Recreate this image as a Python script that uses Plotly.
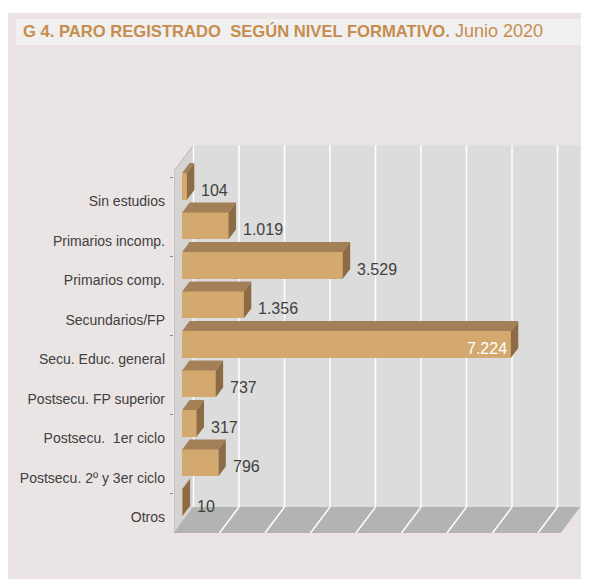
import plotly.graph_objects as go

# ---------------- data ----------------
categories = ["Sin estudios", "Primarios incomp.", "Primarios comp.", "Secundarios/FP",
              "Secu. Educ. general", "Postsecu. FP superior", "Postsecu.  1er ciclo",
              "Postsecu. 2º y 3er ciclo", "Otros"]
values = [104, 1019, 3529, 1356, 7224, 737, 317, 796, 10]
value_labels = ["104", "1.019", "3.529", "1.356", "7.224", "737", "317", "796", "10"]
gridline_values = [0, 1000, 2000, 3000, 4000, 5000, 6000, 7000, 8000]
axis_max = 8500

# ---------------- style / geometry (window pixels) ----------------
WIN_W, WIN_H = 589, 579
OFF = 8                      # page body margin of the browser
W, H = WIN_W - OFF, WIN_H - OFF


def fx(px):                  # window x pixel -> paper fraction
    return (px - OFF) / W


def fy(py):                  # window y pixel (from top) -> paper fraction
    return 1 - (py - OFF) / H


PLOT_L, PLOT_T, PLOT_B = 174, 140, 533
PX_PER_X = 45.5 / 1000.0
PX_PER_CAT = 39.5
DEPTH_PX_X, DEPTH_PX_Y = 19.5, 26.0
BAR_FRONT, BAR_BACK = 0.42, 0.80
BAR_WIDTH = 0.68
WALL_PAD = 0.16

FONT = "Liberation Sans, Arial, sans-serif"
C_FRONT, C_TOP, C_SIDE = "#D4A970", "#A38058", "#8C6B45"
C_BACK, C_LEFT, C_FLOOR = "#DCDCDC", "#D6D3D3", "#B3B3B3"
C_PANEL, C_BAND, C_TITLE = "#EAE4E4", "#F1F0F0", "#C68D4E"
C_TEXT = "#404040"

n = len(categories)
ddx = DEPTH_PX_X / PX_PER_X
ddy = DEPTH_PX_Y / PX_PER_CAT
ypos = [n - 1 - i for i in range(n)]
wall_top = n - 0.5 + WALL_PAD
floor_y = -0.5

fig = go.Figure()

shapes = []
# panel + title band
shapes.append(dict(type="rect", xref="paper", yref="paper", x0=fx(7), x1=1, y0=0, y1=fy(13),
                   fillcolor=C_PANEL, line_width=0, layer="below"))
shapes.append(dict(type="rect", xref="paper", yref="paper", x0=fx(16), x1=1, y0=fy(45), y1=fy(19),
                   fillcolor=C_BAND, line_width=0, layer="below"))


def path(pts):
    return "M " + " L ".join(f"{x},{y}" for x, y in pts) + " Z"


# back wall
shapes.append(dict(type="path", xref="x", yref="y", layer="below", line_width=0, fillcolor=C_BACK,
                   path=path([(ddx, floor_y + ddy), (ddx + axis_max, floor_y + ddy),
                              (ddx + axis_max, wall_top + ddy), (ddx, wall_top + ddy)])))
# left wall
shapes.append(dict(type="path", xref="x", yref="y", layer="below", fillcolor=C_LEFT,
                   line=dict(color="#B8B4B4", width=1),
                   path=path([(0, floor_y), (0, wall_top), (ddx, wall_top + ddy), (ddx, floor_y + ddy)])))
# floor
shapes.append(dict(type="path", xref="x", yref="y", layer="below", line_width=0, fillcolor=C_FLOOR,
                   path=path([(0, floor_y), (axis_max, floor_y), (axis_max + ddx, floor_y + ddy),
                              (ddx, floor_y + ddy)])))
# gridlines on back wall and floor
for g in gridline_values:
    shapes.append(dict(type="line", xref="x", yref="y", layer="below", x0=g + ddx, x1=g + ddx,
                       y0=floor_y + ddy, y1=wall_top + ddy, line=dict(color="white", width=1.5)))
    if g > 0:
        shapes.append(dict(type="line", xref="x", yref="y", layer="below", x0=g, x1=g + ddx,
                           y0=floor_y, y1=floor_y + ddy, line=dict(color="white", width=1.5)))

# bars
x0 = BAR_FRONT * ddx
bdx = (BAR_BACK - BAR_FRONT) * ddx
bdy = (BAR_BACK - BAR_FRONT) * ddy
yc = [y + BAR_FRONT * ddy for y in ypos]

fig.add_trace(go.Bar(orientation="h", y=yc, x=values, base=x0, width=BAR_WIDTH,
                     marker=dict(color=C_FRONT, line=dict(width=0)), hoverinfo="skip"))

top_x, top_y, side_x, side_y = [], [], [], []
for v, c in zip(values, yc):
    yt, yb = c + BAR_WIDTH / 2, c - BAR_WIDTH / 2
    top_x += [x0, x0 + v, x0 + v + bdx, x0 + bdx, x0, None]
    top_y += [yt, yt, yt + bdy, yt + bdy, yt, None]
    side_x += [x0 + v, x0 + v + bdx, x0 + v + bdx, x0 + v, x0 + v, None]
    side_y += [yt, yt + bdy, yb + bdy, yb, yt, None]
fig.add_trace(go.Scatter(x=top_x, y=top_y, fill="toself", fillcolor=C_TOP, mode="lines",
                         line=dict(width=0, color=C_TOP), hoverinfo="skip"))
fig.add_trace(go.Scatter(x=side_x, y=side_y, fill="toself", fillcolor=C_SIDE, mode="lines",
                         line=dict(width=0, color=C_SIDE), hoverinfo="skip"))

annotations = []
vmax = max(values)
for v, c, lab in zip(values, yc, value_labels):
    if v == vmax:
        annotations.append(dict(x=x0 + v, y=c, xref="x", yref="y", text=lab, showarrow=False,
                                xanchor="right", yanchor="middle", xshift=-2, yshift=-4,
                                font=dict(family=FONT, size=16, color="white")))
    else:
        annotations.append(dict(x=x0 + v + bdx, y=c, xref="x", yref="y", text=lab, showarrow=False,
                                xanchor="left", yanchor="middle", xshift=5, yshift=-4,
                                font=dict(family=FONT, size=16, color=C_TEXT)))

annotations.append(dict(x=fx(21), y=fy(31), xref="paper", yref="paper", xanchor="left",
                        yanchor="middle", showarrow=False,
                        text=("<b>G 4. PARO REGISTRADO &nbsp;SEGÚN NIVEL FORMATIVO.</b>"
                              "<span style='font-size:18px'> Junio 2020</span>"),
                        font=dict(family=FONT, size=16.6, color=C_TITLE)))

fig.update_layout(
    template="none",
    width=W, height=H, margin=dict(l=0, r=0, t=0, b=0, pad=0),
    paper_bgcolor="white", plot_bgcolor="rgba(0,0,0,0)", showlegend=False,
    shapes=shapes, annotations=annotations, bargap=0,
    xaxis=dict(domain=[fx(PLOT_L), 1], range=[0, (WIN_W - PLOT_L) / PX_PER_X], showgrid=False,
               zeroline=False, showticklabels=False, ticks="", showline=False,
               fixedrange=True, automargin=False),
    yaxis=dict(domain=[fy(PLOT_B), fy(PLOT_T)],
               range=[-0.5, -0.5 + (PLOT_B - PLOT_T) / PX_PER_CAT], tickmode="array",
               tickvals=ypos, ticktext=categories, showgrid=False, zeroline=False,
               ticks="", showline=False, ticklabelstandoff=8, ticklabelshift=4,
               automargin=False,
               tickfont=dict(family=FONT, size=14, color=C_TEXT),
               minor=dict(tickmode="array", tickvals=[y + 0.5 for y in ypos[::2]],
                          ticks="outside", ticklen=3, tickcolor="#8A8A8A", showgrid=False),
               fixedrange=True),
)

fig.write_html("out.html")
